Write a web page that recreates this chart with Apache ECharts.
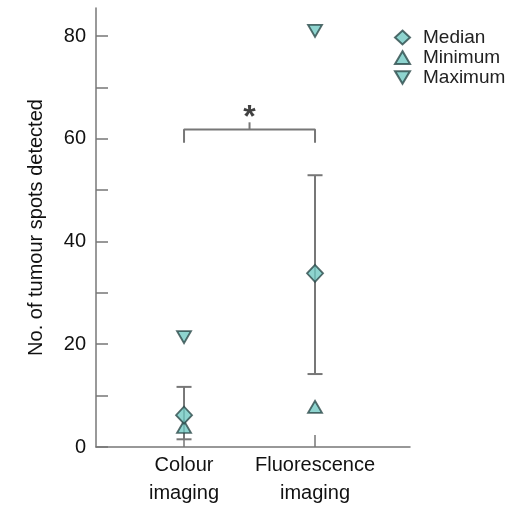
<!DOCTYPE html>
<html><head><meta charset="utf-8">
<script src="https://cdn.jsdelivr.net/npm/echarts@6/dist/echarts.min.js"></script>
<style>html,body{margin:0;padding:0;background:#fff}#c{width:526px;height:507px}</style>
</head><body><div id="c"></div>
<script>
const categories = ['Colour\nimaging', 'Fluorescence\nimaging'];
const medianVals = [6.2, 33.8];
const minVals = [3.9, 7.8];
const maxVals = [21.4, 81.0];
const errLow = [1.5, 14.2];
const errHigh = [11.7, 52.9];
const yTicks = [0, 10, 20, 30, 40, 50, 60, 70, 80];
const yLabels = [0, 20, 40, 60, 80];
const bracketY = 61.8, bracketDrop = 59.2, bracketTop = 63.2, starY = 64.0;

const xs = categories.map((c, i) => i + 1);
const fill = '#72c9c3', edge = '#2c4a4a', gray = '#777777';
const font = '"Liberation Sans", Arial, sans-serif';

const chart = echarts.init(document.getElementById('c'));
chart.setOption({
  animation: false,
  grid: { left: 96, right: 116, top: 8, bottom: 60, outerBoundsMode: 'none', containLabel: false },
  legend: {
    data: ['Median', 'Minimum', 'Maximum'],
    orient: 'vertical', left: 389, top: 23, itemGap: 1,
    itemWidth: 15, itemHeight: 14,
    textStyle: { fontSize: 19, color: '#222', fontFamily: font, padding: [0, 0, 0, 8] }
  },
  xAxis: {
    type: 'value', min: 0.328, max: 2.725,
    splitLine: { show: false },
    axisLine: { lineStyle: { color: gray, width: 1.5 } },
    axisTick: { inside: true, length: 12, customValues: xs, lineStyle: { color: gray, width: 1.5 } },
    axisLabel: {
      customValues: xs, margin: 4, color: '#111', fontSize: 20, lineHeight: 28, fontFamily: font,
      formatter: v => categories[Math.round(v) - 1] || ''
    }
  },
  yAxis: {
    type: 'value', min: 0, max: 85.45,
    name: 'No. of tumour spots detected', nameLocation: 'middle', nameGap: 50,
    nameTextStyle: { fontSize: 20, color: '#111', fontFamily: font },
    splitLine: { show: false },
    axisLine: { show: true, lineStyle: { color: gray, width: 1.5 } },
    axisTick: { inside: true, length: 12, customValues: yTicks, lineStyle: { color: gray, width: 1.5 } },
    axisLabel: { customValues: yLabels, margin: 10, color: '#111', fontSize: 20, fontFamily: font }
  },
  series: [
    {
      type: 'custom', name: 'err', silent: true, z: 1,
      data: xs.map((x, i) => [x, errLow[i], errHigh[i]]),
      renderItem: function (params, api) {
        const lo = api.coord([api.value(0), api.value(1)]);
        const hi = api.coord([api.value(0), api.value(2)]);
        const w = 7.5;
        const st = { stroke: gray, lineWidth: 2 };
        return { type: 'group', children: [
          { type: 'line', shape: { x1: lo[0], y1: lo[1], x2: hi[0], y2: hi[1] }, style: st },
          { type: 'line', shape: { x1: lo[0] - w, y1: lo[1], x2: lo[0] + w, y2: lo[1] }, style: st },
          { type: 'line', shape: { x1: hi[0] - w, y1: hi[1], x2: hi[0] + w, y2: hi[1] }, style: st }
        ]};
      }
    },
    {
      type: 'line', name: 'bracket', silent: true, symbol: 'none', z: 1,
      lineStyle: { color: gray, width: 2 },
      data: [[xs[0], bracketDrop], [xs[0], bracketY], [xs[1], bracketY], [xs[1], bracketDrop]]
    },
    {
      type: 'line', name: 'bracketTick', silent: true, symbol: 'none', z: 1,
      lineStyle: { color: gray, width: 2 },
      data: [[(xs[0] + xs[1]) / 2, bracketY], [(xs[0] + xs[1]) / 2, bracketTop]]
    },
    {
      type: 'scatter', name: 'star', silent: true, symbolSize: 0,
      data: [[(xs[0] + xs[1]) / 2, starY]],
      label: { show: true, formatter: '*', position: 'inside', fontSize: 32, fontWeight: 'bold', color: '#111', fontFamily: font }
    },
    {
      type: 'scatter', name: 'Minimum', z: 3,
      symbol: 'path://M5,0 L10,8.5 L0,8.5 Z', symbolSize: [14, 12],
      itemStyle: { color: fill, borderColor: edge, borderWidth: 1.8 },
      data: xs.map((x, i) => [x, minVals[i]])
    },
    {
      type: 'scatter', name: 'Maximum', z: 3,
      symbol: 'path://M0,0 L10,0 L5,8.5 Z', symbolSize: [14, 12],
      itemStyle: { color: fill, borderColor: edge, borderWidth: 1.8 },
      data: xs.map((x, i) => [x, maxVals[i]])
    },
    {
      type: 'scatter', name: 'Median', z: 4,
      symbol: 'diamond', symbolSize: [16, 17],
      itemStyle: { color: fill, borderColor: edge, borderWidth: 1.8 },
      data: xs.map((x, i) => [x, medianVals[i]])
    }
  ]
});
</script></body></html>
